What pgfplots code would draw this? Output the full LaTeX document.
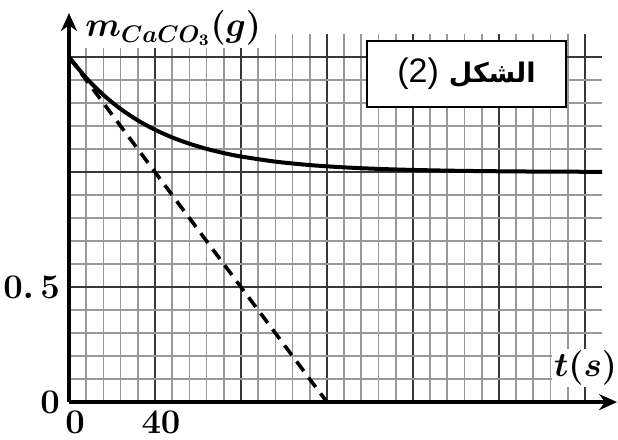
\documentclass[border=0pt]{standalone}
\usepackage{pgfplots}
\pgfplotsset{compat=1.18}
\usepackage{fontspec}
\newfontfamily\arabicfont[Script=Arabic]{DejaVu Sans}
\newfontfamily\lsans{Liberation Sans}
\TeXXeTstate=1
\usetikzlibrary{arrows.meta}
\begin{document}
\begin{tikzpicture}
\begin{axis}[
  scale only axis,
  width=266.5pt, height=184pt,
  xmin=0, xmax=248, ymin=0, ymax=1.6,
  axis lines=left,
  x axis line style={line width=2pt, -{Stealth[length=9pt,width=8pt]}, shorten >=-7.5pt},
  y axis line style={line width=2pt, -{Stealth[length=9pt,width=8pt]}, shorten >=-10.5pt},
  xtick={0,40,...,240}, xticklabels={$0$,$40$},
  ytick={0,0.5,1,1.5}, yticklabels={$0$,$0.\,5$},
  minor tick num=4,
  major tick length=0pt, minor tick length=0pt,
  grid=both,
  major grid style={black!78, line width=0.9pt},
  minor grid style={black!40, line width=0.85pt},
  ticklabel style={font=\fontsize{18.5}{20}\selectfont\boldmath},
  xticklabel style={yshift=-1pt, xshift=3pt},
  yticklabel style={xshift=-1pt},
  clip=false,
]
\addplot[black, line width=2pt, smooth] coordinates {
 (0,1.5) (8,1.4094) (16,1.3352) (24,1.2744) (32,1.2247) (40,1.1839)
 (48,1.1506) (56,1.1233) (64,1.1009) (72,1.0826) (80,1.0677)
 (96,1.0454) (112,1.0304) (128,1.0204) (144,1.0137) (160,1.0092)
 (180,1.0056) (200,1.0034) (220,1.0020) (248,1.0010)};
\addplot[black, line width=1.8pt, dash pattern=on 6pt off 4pt] coordinates {(0,1.5) (120,0)};
\node[fill=white, anchor=west, inner sep=1pt, font=\fontsize{17}{19}\selectfont\boldmath] at (axis cs:6.5,1.625) {$m_{CaCO_3}(g)$};
\node[fill=white, inner sep=1pt, font=\fontsize{16.5}{19}\selectfont\boldmath] at (axis cs:240.3,0.148) {$t(s)$};
\node[draw=black, fill=white, line width=1pt, minimum width=99.5pt, minimum height=33pt] at (axis cs:184.9,1.426)
  {{\lsans\fontsize{17}{19}\selectfont (2)}\hspace{5pt}{\arabicfont\bfseries\fontsize{13.5}{16}\selectfont\beginR الشكل\endR}};
\coordinate (bl) at (axis cs:-32.1,-0.161);
\coordinate (tr) at (axis cs:255.4,1.748);
\end{axis}
\pgfresetboundingbox
\path (bl) rectangle (tr);
\end{tikzpicture}
\end{document}
